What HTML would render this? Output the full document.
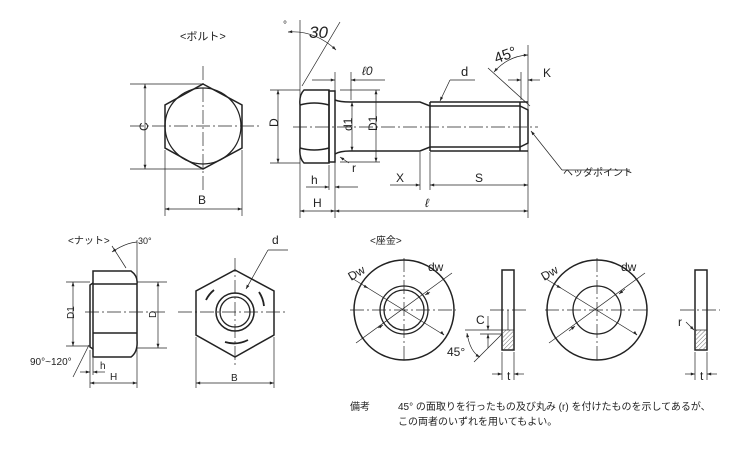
<!DOCTYPE html>
<html><head><meta charset="utf-8"><style>
html,body{margin:0;padding:0;background:#fff;}
svg{display:block;}
text{font-family:"Liberation Sans","Noto Sans CJK JP",sans-serif;fill:#222;}
</style></head><body>
<svg width="750" height="450" viewBox="0 0 750 450" xmlns="http://www.w3.org/2000/svg">
<defs>
<marker id="a" viewBox="0 0 10 10" refX="10" refY="5" markerWidth="7" markerHeight="6" orient="auto-start-reverse"><path d="M0,1.5 L10,5 L0,8.5 z" fill="#222"/></marker>
<pattern id="hatch" width="3" height="3" patternUnits="userSpaceOnUse" patternTransform="rotate(45)"><line x1="0" y1="0" x2="0" y2="3" stroke="#333" stroke-width="0.7"/></pattern>
</defs>
<g fill="none" stroke="#222">
<g stroke-width="0.7" stroke-dasharray="14,3,2,3">
<line x1="130" y1="126" x2="262" y2="126"/><line x1="203" y1="66" x2="203" y2="192"/>
</g>
<polygon points="203,84 242,105 242,148 203,169 165,148 165,105" stroke-width="1.5"/>
<circle cx="203" cy="126" r="38" stroke-width="1.3"/>
<g stroke-width="0.7">
<line x1="130" y1="84" x2="203" y2="84"/><line x1="130" y1="169" x2="203" y2="169"/>
<line x1="145" y1="84" x2="145" y2="169" marker-start="url(#a)" marker-end="url(#a)"/>
<line x1="165" y1="150" x2="165" y2="216"/><line x1="242" y1="150" x2="242" y2="216"/>
<line x1="165" y1="209" x2="242" y2="209" marker-start="url(#a)" marker-end="url(#a)"/>
</g>
<g stroke-width="0.7" stroke-dasharray="14,3,2,3"><line x1="293" y1="127" x2="538" y2="127"/></g>
<g stroke-width="1.5">
<path d="M304,90 L329,90 L329,163 L304,163 Q299,158 300,148 L300,105 Q299,95 304,90 Z"/>
<path d="M300,105 Q314,101 329,105 M300,148 Q314,152 329,148"/>
<rect x="329" y="91" width="6" height="71"/>
<path d="M335,100 Q340,102 350,102 L420,102 L430,106 L520,106 L528,110 L528,143 L520,147 L430,147 L420,151 L350,151 Q340,151 335,154"/>
<path d="M430,102 L528,102 M430,151 L528,151 M430,102 L430,151 M520,102 L520,151"/>
</g>
<g stroke-width="0.7">
<line x1="300" y1="20" x2="300" y2="218"/>
<line x1="302" y1="86" x2="340" y2="22"/>
<path d="M288,32 Q315,30 336,50" marker-start="url(#a)" marker-end="url(#a)"/>
<line x1="270" y1="90" x2="300" y2="90"/><line x1="270" y1="163" x2="300" y2="163"/>
<line x1="278" y1="90" x2="278" y2="163" marker-start="url(#a)" marker-end="url(#a)"/>
<line x1="335" y1="72" x2="335" y2="218"/><line x1="351" y1="72" x2="351" y2="100"/>
<line x1="312" y1="80" x2="335" y2="80" marker-end="url(#a)"/>
<line x1="385" y1="80" x2="351" y2="80" marker-end="url(#a)"/>
<line x1="340" y1="90" x2="380" y2="90"/><line x1="340" y1="162" x2="380" y2="162"/>
<line x1="352" y1="102" x2="352" y2="151" marker-start="url(#a)" marker-end="url(#a)"/>
<line x1="376" y1="90" x2="376" y2="162" marker-start="url(#a)" marker-end="url(#a)"/>
<line x1="475" y1="80" x2="450" y2="80"/><line x1="450" y1="80" x2="440" y2="101" marker-end="url(#a)"/>
<line x1="488" y1="68" x2="530" y2="106"/>
<line x1="528" y1="45" x2="528" y2="218"/><line x1="521" y1="72" x2="521" y2="100"/>
<path d="M494,72 Q508,56 528,55" marker-start="url(#a)" marker-end="url(#a)"/>
<line x1="508" y1="80" x2="521" y2="80" marker-end="url(#a)"/>
<line x1="540" y1="80" x2="528" y2="80" marker-end="url(#a)"/>
<line x1="562" y1="170" x2="531" y2="131" marker-end="url(#a)"/>
<line x1="562" y1="170" x2="630" y2="170"/>
<line x1="349" y1="163" x2="340" y2="157" marker-end="url(#a)"/>
<line x1="329" y1="165" x2="329" y2="190"/>
<line x1="306" y1="187" x2="329" y2="187" marker-end="url(#a)"/>
<line x1="358" y1="187" x2="335" y2="187" marker-end="url(#a)"/>
<line x1="420" y1="152" x2="420" y2="190"/><line x1="430" y1="152" x2="430" y2="190"/>
<line x1="390" y1="185" x2="420" y2="185" marker-end="url(#a)"/>
<line x1="430" y1="185" x2="528" y2="185" marker-start="url(#a)" marker-end="url(#a)"/>
<line x1="300" y1="211" x2="335" y2="211" marker-start="url(#a)" marker-end="url(#a)"/>
<line x1="335" y1="211" x2="528" y2="211" marker-start="url(#a)" marker-end="url(#a)"/>
</g>
<g stroke-width="0.7" stroke-dasharray="14,3,2,3"><line x1="85" y1="312" x2="165" y2="312"/></g>
<g stroke-width="1.5">
<path d="M93,271 L131,271 Q138,276 137,284 L137,340 Q138,352 131,357 L93,357 Z"/>
<path d="M93,284 L137,284 M93,333 L137,333"/>
<path d="M93,283 L90,285 L90,347 L93,349"/>
</g>
<g stroke-width="0.7">
<line x1="137" y1="240" x2="137" y2="388"/>
<line x1="126" y1="268" x2="112" y2="246"/>
<path d="M112,252 Q125,243 137,242" marker-start="url(#a)"/>
<line x1="66" y1="282" x2="90" y2="282"/><line x1="66" y1="346" x2="90" y2="346"/>
<line x1="73" y1="282" x2="73" y2="346" marker-start="url(#a)" marker-end="url(#a)"/>
<line x1="137" y1="282" x2="167" y2="282"/><line x1="137" y1="348" x2="167" y2="348"/>
<line x1="158" y1="282" x2="158" y2="348" marker-start="url(#a)" marker-end="url(#a)"/>
<line x1="90" y1="350" x2="90" y2="388"/><line x1="93" y1="358" x2="93" y2="375"/>
<line x1="73" y1="377" x2="89" y2="345"/>
<line x1="80" y1="372" x2="90" y2="372" marker-end="url(#a)"/>
<line x1="105" y1="372" x2="93" y2="372" marker-end="url(#a)"/>
<line x1="90" y1="383" x2="137" y2="383" marker-start="url(#a)" marker-end="url(#a)"/>
</g>
<g stroke-width="0.7" stroke-dasharray="14,3,2,3">
<line x1="178" y1="312" x2="287" y2="312"/><line x1="235" y1="258" x2="235" y2="368"/>
</g>
<polygon points="235,270 274,291 274,335 235,357 196,335 196,291" stroke-width="1.5"/>
<circle cx="235" cy="312" r="19" stroke-width="1.5"/>
<circle cx="235" cy="312" r="15" stroke-width="1.3"/>
<g stroke-width="1.8">
<path d="M206,300 A30,30 0 0 1 214,290"/>
<path d="M259,292 A31,31 0 0 1 264,306"/>
<path d="M225,342 A31,31 0 0 0 248,340"/>
</g>
<g stroke-width="0.7">
<line x1="196" y1="337" x2="196" y2="388"/><line x1="274" y1="337" x2="274" y2="388"/>
<line x1="196" y1="383" x2="274" y2="383" marker-start="url(#a)" marker-end="url(#a)"/>
<line x1="288" y1="250" x2="268" y2="250"/><line x1="268" y1="250" x2="246" y2="289" marker-end="url(#a)"/>
</g>
<g stroke-width="0.7" stroke-dasharray="14,3,2,3">
<line x1="350" y1="310" x2="456" y2="310"/><line x1="404" y1="258" x2="404" y2="362"/>
<line x1="490" y1="310" x2="527" y2="310"/>
</g>
<circle cx="404" cy="310" r="50" stroke-width="1.5"/>
<circle cx="404" cy="310" r="24" stroke-width="1.3"/>
<circle cx="404" cy="310" r="20" stroke-width="1.3"/>
<g stroke-width="0.7">
<line x1="350" y1="277" x2="444" y2="335"/><line x1="356" y1="343" x2="452" y2="273"/>
<line x1="366" y1="287" x2="368" y2="288" marker-end="url(#a)"/>
<line x1="443" y1="334" x2="444" y2="335" marker-end="url(#a)"/>
<line x1="430" y1="292" x2="425" y2="295" marker-end="url(#a)"/>
<line x1="378" y1="328" x2="383" y2="325" marker-end="url(#a)"/>
</g>
<rect x="502" y="270" width="12" height="80" stroke-width="1.5"/>
<rect x="503" y="330" width="10" height="19" fill="url(#hatch)" stroke="none"/>
<g stroke-width="0.7">
<line x1="502" y1="330" x2="514" y2="330"/><line x1="508" y1="310" x2="508" y2="330"/>
<line x1="465" y1="330" x2="502" y2="330"/><line x1="480" y1="334" x2="502" y2="334"/>
<line x1="488" y1="316" x2="488" y2="330" marker-end="url(#a)"/>
<line x1="488" y1="348" x2="488" y2="334" marker-end="url(#a)"/>
<line x1="502" y1="334" x2="474" y2="362"/>
<path d="M467,333 Q470,352 480,357" marker-start="url(#a)" marker-end="url(#a)"/>
<line x1="502" y1="352" x2="502" y2="380"/><line x1="514" y1="352" x2="514" y2="380"/>
<line x1="492" y1="374" x2="502" y2="374" marker-end="url(#a)"/>
<line x1="524" y1="374" x2="514" y2="374" marker-end="url(#a)"/>
</g>
<g stroke-width="0.7" stroke-dasharray="14,3,2,3">
<line x1="545" y1="310" x2="650" y2="310"/><line x1="597" y1="258" x2="597" y2="362"/>
<line x1="680" y1="310" x2="720" y2="310"/>
</g>
<circle cx="597" cy="310" r="50" stroke-width="1.5"/>
<circle cx="597" cy="310" r="24" stroke-width="1.3"/>
<g stroke-width="0.7">
<line x1="543" y1="277" x2="637" y2="335"/><line x1="549" y1="343" x2="645" y2="273"/>
<line x1="559" y1="287" x2="561" y2="288" marker-end="url(#a)"/>
<line x1="636" y1="334" x2="637" y2="335" marker-end="url(#a)"/>
<line x1="625" y1="289" x2="619" y2="294" marker-end="url(#a)"/>
<line x1="569" y1="331" x2="575" y2="326" marker-end="url(#a)"/>
</g>
<rect x="695" y="270" width="12" height="80" stroke-width="1.5"/>
<rect x="696" y="330" width="10" height="19" fill="url(#hatch)" stroke="none"/>
<g stroke-width="0.7">
<line x1="695" y1="330" x2="707" y2="330"/>
<line x1="686" y1="322" x2="694" y2="330" marker-end="url(#a)"/>
<line x1="695" y1="352" x2="695" y2="380"/><line x1="707" y1="352" x2="707" y2="380"/>
<line x1="685" y1="374" x2="695" y2="374" marker-end="url(#a)"/>
<line x1="717" y1="374" x2="707" y2="374" marker-end="url(#a)"/>
</g>
</g>
<g font-size="12">
<text x="180" y="40" font-size="11">&lt;ボルト&gt;</text>
<text x="138" y="131" transform="rotate(-90 143 126)">C</text>
<text x="198" y="204">B</text>
<text x="272" y="131" transform="rotate(-90 273 126)">D</text>
<text x="283" y="28" font-size="10">°</text>
<text x="309" y="38" font-size="17" font-style="italic">30</text>
<text x="362" y="75" font-style="italic">ℓ0</text>
<text x="461" y="76" font-size="13">d</text>
<text x="494" y="60" font-size="15" transform="rotate(-20 505 55)">45°</text>
<text x="543" y="77">K</text>
<text x="342" y="131" transform="rotate(-90 347 126)">d1</text>
<text x="365" y="133" transform="rotate(-90 370 126)">D1</text>
<text x="352" y="172">r</text>
<text x="311" y="184">h</text>
<text x="396" y="182">X</text>
<text x="475" y="182">S</text>
<text x="563" y="176" font-size="10">ヘッダポイント</text>
<text x="313" y="207">H</text>
<text x="425" y="207" font-style="italic">ℓ</text>
<text x="68" y="244" font-size="10">&lt;ナット&gt;</text>
<text x="138" y="244" font-size="9">30°</text>
<text x="63" y="320" font-size="10" transform="rotate(-90 68 314)">D1</text>
<text x="148" y="318" font-size="10" transform="rotate(-90 152 314)">D</text>
<text x="30" y="365" font-size="10">90°~120°</text>
<text x="100" y="369" font-size="10">h</text>
<text x="110" y="380" font-size="10">H</text>
<text x="231" y="381" font-size="10">B</text>
<text x="272" y="244">d</text>
<text x="370" y="244" font-size="10">&lt;座金&gt;</text>
<text x="348" y="278" transform="rotate(-30 355 274)">Dw</text>
<text x="428" y="271">dw</text>
<text x="476" y="324">C</text>
<text x="447" y="356">45°</text>
<text x="507" y="380">t</text>
<text x="541" y="278" transform="rotate(-30 548 274)">Dw</text>
<text x="621" y="271">dw</text>
<text x="678" y="326">r</text>
<text x="700" y="380">t</text>
<text x="350" y="410" font-size="10">備考</text>
<text x="398" y="410" font-size="10">45° の面取りを行ったもの及び丸み (r) を付けたものを示してあるが、</text>
<text x="398" y="425" font-size="10">この両者のいずれを用いてもよい。</text>
</g>
</svg>
</body></html>
